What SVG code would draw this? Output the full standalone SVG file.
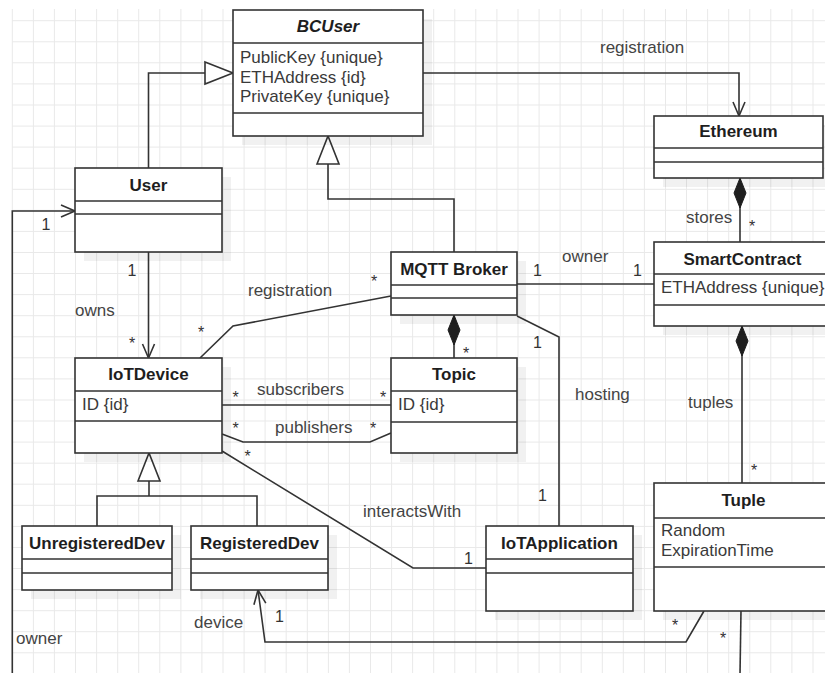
<svg xmlns="http://www.w3.org/2000/svg" width="825" height="673" viewBox="0 0 825 673">
  <style>
    .grid { fill: none; stroke: #e9e9e9; stroke-width: 1; }
    .shadow { fill: #000; opacity: 0.055; }
    .box { fill: #fff; stroke: #333; stroke-width: 1.6; }
    .div { fill: none; stroke: #333; stroke-width: 1.6; }
    .title { font-family: "Liberation Sans", Arial, sans-serif; font-size: 17px; font-weight: bold; fill: #1e1e1e; text-anchor: middle; }
    .attr { font-family: "Liberation Sans", Arial, sans-serif; font-size: 17px; fill: #3a3a3a; }
    .lbl { font-family: "Liberation Sans", Arial, sans-serif; font-size: 17px; fill: #444; }
    .mult { font-family: "Liberation Sans", Arial, sans-serif; font-size: 16px; fill: #333; text-anchor: middle; }
    .edge { fill: none; stroke: #333; stroke-width: 1.6; }
  </style>
  <defs>
    <!-- hollow triangle: generalization -->
    <marker id="tri" viewBox="-2 -2 32 26" refX="28" refY="11" markerWidth="32" markerHeight="26" markerUnits="userSpaceOnUse" orient="auto" overflow="visible">
      <path d="M0,0 L28,11 L0,22 Z" fill="#fff" stroke="#333" stroke-width="1.6"/>
    </marker>
    <!-- open arrowhead: navigable association -->
    <marker id="open" viewBox="-2 -2 18 16" refX="14" refY="6" markerWidth="18" markerHeight="16" markerUnits="userSpaceOnUse" orient="auto" overflow="visible">
      <path d="M0,0 L14,6 L0,12" fill="none" stroke="#333" stroke-width="1.6"/>
    </marker>
    <!-- filled diamond: composition (whole side) -->
    <marker id="diamond" viewBox="-1 -1 32 14" refX="0" refY="6" markerWidth="32" markerHeight="14" markerUnits="userSpaceOnUse" orient="auto" overflow="visible">
      <path d="M0,6 L15,0 L30,6 L15,12 Z" fill="#1e1e1e" stroke="#1e1e1e" stroke-width="1"/>
    </marker>
  </defs>

  <rect width="825" height="673" fill="#fff"/>

  <!-- background grid -->
  <path class="grid" d="M12.3 9V673 M33.4 9V673 M54.4 9V673 M75.5 9V673 M96.6 9V673 M117.7 9V673 M138.7 9V673 M159.8 9V673 M180.9 9V673 M201.9 9V673 M223 9V673 M244.1 9V673 M265.1 9V673 M286.2 9V673 M307.3 9V673 M328.4 9V673 M349.4 9V673 M370.5 9V673 M391.6 9V673 M412.6 9V673 M433.7 9V673 M454.8 9V673 M475.8 9V673 M496.9 9V673 M518 9V673 M539.1 9V673 M560.1 9V673 M581.2 9V673 M602.3 9V673 M623.3 9V673 M644.4 9V673 M665.5 9V673 M686.5 9V673 M707.6 9V673 M728.7 9V673 M749.8 9V673 M770.8 9V673 M791.9 9V673 M813 9V673
    M12.3 20.7H825 M12.3 41.8H825 M12.3 62.8H825 M12.3 83.9H825 M12.3 105H825 M12.3 126.1H825 M12.3 147.1H825 M12.3 168.2H825 M12.3 189.3H825 M12.3 210.3H825 M12.3 231.4H825 M12.3 252.5H825 M12.3 273.5H825 M12.3 294.6H825 M12.3 315.7H825 M12.3 336.8H825 M12.3 357.8H825 M12.3 378.9H825 M12.3 400H825 M12.3 421H825 M12.3 442.1H825 M12.3 463.2H825 M12.3 484.2H825 M12.3 505.3H825 M12.3 526.4H825 M12.3 547.5H825 M12.3 568.5H825 M12.3 589.6H825 M12.3 610.7H825 M12.3 631.7H825 M12.3 652.8H825"/>

  <!-- connectors -->
  <g id="connectors">
    <!-- User generalizes to BCUser -->
    <path class="edge" d="M148.5,168 V73 H233" marker-end="url(#tri)"/>
    <!-- MQTT Broker generalizes to BCUser -->
    <path class="edge" d="M454,252 V199 H328 V136" marker-end="url(#tri)"/>
    <!-- registration: BCUser to Ethereum -->
    <path class="edge" d="M423,73 H739 V116" marker-end="url(#open)"/>
    <!-- stores: Ethereum composes SmartContract -->
    <path class="edge" d="M740,178 V242" marker-start="url(#diamond)"/>
    <!-- owner: MQTT Broker to SmartContract -->
    <path class="edge" d="M517,284 H654"/>
    <!-- MQTT Broker composes Topic -->
    <path class="edge" d="M454,315 V358" marker-start="url(#diamond)"/>
    <!-- hosting: MQTT Broker to IoTApplication -->
    <path class="edge" d="M517,316 L559,337 V526"/>
    <!-- tuples: SmartContract composes Tuple -->
    <path class="edge" d="M742,326 V483" marker-start="url(#diamond)"/>
    <!-- owns: User to IoTDevice -->
    <path class="edge" d="M148.5,252 V358" marker-end="url(#open)"/>
    <!-- registration: IoTDevice to MQTT Broker -->
    <path class="edge" d="M200,358 L233,326 L391,296"/>
    <!-- subscribers / publishers: IoTDevice to Topic -->
    <path class="edge" d="M222,405 H391"/>
    <path class="edge" d="M222,434 L243,442 H370 L391,433"/>
    <!-- interactsWith: IoTDevice to IoTApplication -->
    <path class="edge" d="M222,451 L413,568 H486"/>
    <!-- UnregisteredDev / RegisteredDev generalize to IoTDevice -->
    <path class="edge" d="M97,526 V496 H257 V526"/>
    <path class="edge" d="M149,496 V453" marker-end="url(#tri)"/>
    <!-- device: Tuple to RegisteredDev -->
    <path class="edge" d="M704,611 L686,642 H265 L258,590" marker-end="url(#open)"/>
    <!-- owner: Tuple to User (routed below the canvas edge) -->
    <path class="edge" d="M741,611 L740,674"/>
    <path class="edge" d="M12.3,674 V211 H75" marker-end="url(#open)"/>

    <!-- association labels -->
    <text class="lbl" x="600" y="53">registration</text>
    <text class="lbl" x="686" y="222.5">stores</text>
    <text class="lbl" x="562" y="261.5">owner</text>
    <text class="lbl" x="75" y="316">owns</text>
    <text class="lbl" x="248" y="296">registration</text>
    <text class="lbl" x="257" y="395">subscribers</text>
    <text class="lbl" x="275" y="433">publishers</text>
    <text class="lbl" x="575" y="400">hosting</text>
    <text class="lbl" x="688" y="408">tuples</text>
    <text class="lbl" x="363" y="517">interactsWith</text>
    <text class="lbl" x="194" y="628">device</text>
    <text class="lbl" x="16" y="644">owner</text>

    <!-- multiplicities -->
    <text class="mult" x="752" y="232">*</text>
    <text class="mult" x="132" y="348.5">*</text>
    <text class="mult" x="374" y="287">*</text>
    <text class="mult" x="201" y="338">*</text>
    <text class="mult" x="235.5" y="402.5">*</text>
    <text class="mult" x="383" y="402.5">*</text>
    <text class="mult" x="235.5" y="433.5">*</text>
    <text class="mult" x="373" y="433.5">*</text>
    <text class="mult" x="247.5" y="462">*</text>
    <text class="mult" x="466" y="358.5">*</text>
    <text class="mult" x="754" y="476">*</text>
    <text class="mult" x="675" y="631">*</text>
    <text class="mult" x="723" y="644">*</text>
    <text class="mult" x="132" y="275.5">1</text>
    <text class="mult" x="537.5" y="275.5">1</text>
    <text class="mult" x="637.5" y="275.5">1</text>
    <text class="mult" x="537.5" y="348">1</text>
    <text class="mult" x="542.5" y="501">1</text>
    <text class="mult" x="468.5" y="564">1</text>
    <text class="mult" x="279.5" y="622">1</text>
    <text class="mult" x="46" y="230">1</text>
  </g>

  <!-- classes -->
  <g id="bcuser">
    <rect class="shadow" x="242" y="19" width="190" height="126"/>
    <rect class="box" x="233" y="10" width="190" height="126"/>
    <path class="div" d="M233,43 H423 M233,113 H423"/>
    <text class="title" x="328" y="32" font-style="italic">BCUser</text>
    <text class="attr" x="240" y="63">PublicKey {unique}</text>
    <text class="attr" x="240" y="82.5">ETHAddress {id}</text>
    <text class="attr" x="240" y="102">PrivateKey {unique}</text>
  </g>

  <g id="user">
    <rect class="shadow" x="84" y="177" width="147" height="84"/>
    <rect class="box" x="75" y="168" width="147" height="84"/>
    <path class="div" d="M75,201 H222 M75,214 H222"/>
    <text class="title" x="148.5" y="191">User</text>
  </g>

  <g id="ethereum">
    <rect class="shadow" x="663" y="125" width="169" height="62"/>
    <rect class="box" x="654" y="116" width="169" height="62"/>
    <path class="div" d="M654,148 H823 M654,162 H823"/>
    <text class="title" x="738.5" y="137">Ethereum</text>
  </g>

  <g id="smartcontract">
    <rect class="shadow" x="663" y="251" width="177" height="84"/>
    <rect class="box" x="654" y="242" width="177" height="84"/>
    <path class="div" d="M654,274 H831 M654,305 H831"/>
    <text class="title" x="742.5" y="264.5">SmartContract</text>
    <text class="attr" x="661" y="293">ETHAddress {unique}</text>
  </g>

  <g id="mqtt-broker">
    <rect class="shadow" x="400" y="261" width="126" height="63"/>
    <rect class="box" x="391" y="252" width="126" height="63"/>
    <path class="div" d="M391,285 H517 M391,298 H517"/>
    <text class="title" x="454" y="274.5">MQTT Broker</text>
  </g>

  <g id="topic">
    <rect class="shadow" x="400" y="367" width="126" height="95"/>
    <rect class="box" x="391" y="358" width="126" height="95"/>
    <path class="div" d="M391,391 H517 M391,422 H517"/>
    <text class="title" x="454" y="380">Topic</text>
    <text class="attr" x="398" y="410">ID {id}</text>
  </g>

  <g id="iotdevice">
    <rect class="shadow" x="84" y="367" width="147" height="95"/>
    <rect class="box" x="75" y="358" width="147" height="95"/>
    <path class="div" d="M75,391 H222 M75,421 H222"/>
    <text class="title" x="148.5" y="379.5">IoTDevice</text>
    <text class="attr" x="82" y="410">ID {id}</text>
  </g>

  <g id="unregistereddev">
    <rect class="shadow" x="31" y="535" width="150" height="64"/>
    <rect class="box" x="22" y="526" width="150" height="64"/>
    <path class="div" d="M22,559 H172 M22,573 H172"/>
    <text class="title" x="97" y="548.5">UnregisteredDev</text>
  </g>

  <g id="registereddev">
    <rect class="shadow" x="200" y="535" width="137" height="64"/>
    <rect class="box" x="191" y="526" width="137" height="64"/>
    <path class="div" d="M191,559 H328 M191,573 H328"/>
    <text class="title" x="259.5" y="548.5">RegisteredDev</text>
  </g>

  <g id="iotapplication">
    <rect class="shadow" x="495" y="535" width="147" height="85"/>
    <rect class="box" x="486" y="526" width="147" height="85"/>
    <path class="div" d="M486,559 H633 M486,573 H633"/>
    <text class="title" x="559.5" y="548.5">IoTApplication</text>
  </g>

  <g id="tuple">
    <rect class="shadow" x="663" y="492" width="179" height="128"/>
    <rect class="box" x="654" y="483" width="179" height="128"/>
    <path class="div" d="M654,518 H833 M654,567 H833"/>
    <text class="title" x="743.5" y="506">Tuple</text>
    <text class="attr" x="661" y="536">Random</text>
    <text class="attr" x="661" y="556">ExpirationTime</text>
  </g>
</svg>
